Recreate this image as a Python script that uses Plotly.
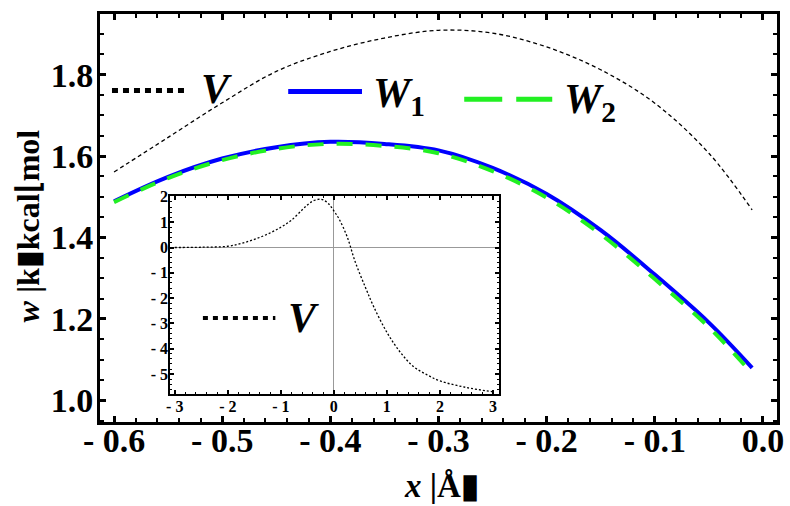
import plotly.graph_objects as go

# ---------------- data ----------------
x_main = [-0.60, -0.55, -0.50, -0.45, -0.40, -0.35, -0.30, -0.25, -0.20, -0.15, -0.10, -0.05, -0.01]
V_main = [1.561, 1.646, 1.731, 1.808, 1.857, 1.890, 1.909, 1.902, 1.868, 1.812, 1.730, 1.607, 1.468]
W1 = [1.489, 1.549, 1.594, 1.622, 1.635, 1.630, 1.614, 1.571, 1.507, 1.418, 1.309, 1.191, 1.080]
W2 = [1.487, 1.546, 1.590, 1.618, 1.630, 1.625, 1.607, 1.563, 1.498, 1.408, 1.298, 1.180, 1.066]

x_inset = [-3.0, -2.5, -2.0, -1.75, -1.5, -1.25, -1.0, -0.8, -0.6, -0.5, -0.4, -0.3, -0.25,
           -0.2, -0.1, 0.0, 0.1, 0.25, 0.4, 0.6, 0.75, 1.0, 1.25, 1.5, 1.75, 2.0, 2.5, 3.0]
V_inset = [0.0, 0.01, 0.05, 0.16, 0.32, 0.53, 0.80, 1.08, 1.48, 1.68, 1.83, 1.90, 1.905,
           1.88, 1.73, 1.45, 1.12, 0.43, -0.55, -1.60, -2.33, -3.35, -4.13, -4.70, -5.02, -5.27, -5.53, -5.70]

main_xticks = [-0.6, -0.5, -0.4, -0.3, -0.2, -0.1, 0.0]
main_xticktext = ["- 0.6", "- 0.5", "- 0.4", "- 0.3", "- 0.2", "- 0.1", "0.0"]
main_yticks = [1.0, 1.2, 1.4, 1.6, 1.8]
main_yticktext = ["1.0", "1.2", "1.4", "1.6", "1.8"]
inset_xticks = [-3, -2, -1, 0, 1, 2, 3]
inset_xticktext = ["- 3", "- 2", "- 1", "0", "1", "2", "3"]
inset_yticks = [2, 1, 0, -1, -2, -3, -4, -5]
inset_yticktext = ["2", "1", "0", "- 1", "- 2", "- 3", "- 4", "- 5"]

SERIF = "Liberation Serif"

fig = go.Figure()
fig.add_trace(go.Scatter(x=x_main, y=V_main, mode="lines", line=dict(color="black", width=1.3, dash="4px,3px", shape="spline"),
                         showlegend=False, xaxis="x", yaxis="y"))
fig.add_trace(go.Scatter(x=x_main, y=W1, mode="lines", line=dict(color="#0000ff", width=4, shape="spline"),
                         showlegend=False, xaxis="x", yaxis="y"))
fig.add_trace(go.Scatter(x=x_main, y=W2, mode="lines", line=dict(color="#22f022", width=4, dash="16px,13px", shape="spline"),
                         showlegend=False, xaxis="x", yaxis="y"))
fig.add_trace(go.Scatter(x=x_inset, y=V_inset, mode="lines", line=dict(color="black", width=1.3, dash="2px,2px", shape="spline"),
                         showlegend=False, xaxis="x2", yaxis="y2"))

axis_common = dict(showline=True, linecolor="black", mirror="allticks", ticks="inside",
                   tickcolor="black", showgrid=False)

fig.update_layout(
    width=790, height=506,
    margin=dict(l=100, r=13, t=6, b=84),
    paper_bgcolor="white", plot_bgcolor="white",
    xaxis=dict(**axis_common, domain=[0, 1], range=[-0.613, 0.013], anchor="y",
               tickvals=main_xticks, ticktext=main_xticktext, zeroline=False,
               linewidth=3, ticklen=6, tickwidth=3, ticklabelstandoff=-14,
               minor=dict(dtick=0.02, ticks="inside", ticklen=4, tickwidth=2, tickcolor="black", showgrid=False),
               tickfont=dict(family=SERIF, size=34, color="black", weight="bold")),
    yaxis=dict(**axis_common, domain=[0, 1], range=[0.947, 1.949], anchor="x",
               tickvals=main_yticks, ticktext=main_yticktext, zeroline=False,
               linewidth=3, ticklen=6, tickwidth=3, ticklabelstandoff=-3,
               minor=dict(dtick=0.05, ticks="inside", ticklen=4, tickwidth=2, tickcolor="black", showgrid=False),
               tickfont=dict(family=SERIF, size=34, color="black", weight="bold")),
    xaxis2=dict(**axis_common, domain=[0.1034, 0.589], range=[-3.09, 3.11], anchor="y2",
                tickvals=inset_xticks, ticktext=inset_xticktext,
                zeroline=True, zerolinecolor="#999999", zerolinewidth=1,
                linewidth=1.5, ticklen=4, tickwidth=1.5, ticklabelstandoff=-3,
                minor=dict(dtick=0.2, ticks="inside", ticklen=2, tickwidth=1, tickcolor="black", showgrid=False),
                tickfont=dict(family=SERIF, size=16, color="black", weight="bold")),
    yaxis2=dict(**axis_common, domain=[0.0697, 0.553], range=[-5.77, 2.02], anchor="x2",
                tickvals=inset_yticks, ticktext=inset_yticktext,
                zeroline=True, zerolinecolor="#999999", zerolinewidth=1,
                linewidth=1.5, ticklen=4, tickwidth=1.5, ticklabelstandoff=-3,
                minor=dict(dtick=0.2, ticks="inside", ticklen=2, tickwidth=1, tickcolor="black", showgrid=False),
                tickfont=dict(family=SERIF, size=16, color="black", weight="bold")),
)

# legend samples (drawn as paper-space shapes)
shapes = [
    dict(type="line", xref="paper", yref="paper", x0=0.0177, x1=0.1285, y0=0.8125, y1=0.8125,
         line=dict(color="black", width=5, dash="6px,5px")),
    dict(type="line", xref="paper", yref="paper", x0=0.278, x1=0.387, y0=0.81, y1=0.81,
         line=dict(color="#0000ff", width=5)),
    dict(type="line", xref="paper", yref="paper", x0=0.538, x1=0.668, y0=0.791, y1=0.791,
         line=dict(color="#22f022", width=5, dash="38px,14px")),
    dict(type="line", xref="paper", yref="paper", x0=0.152, x1=0.259, y0=0.255, y1=0.255,
         line=dict(color="black", width=4, dash="5px,5px")),
]
fig.update_layout(shapes=shapes)

ann_font = dict(family=SERIF, size=42, color="black")
annotations = [
    dict(text="<b><i>V</i></b>", x=0.172, y=0.817, xref="paper", yref="paper", showarrow=False,
         font=ann_font, xanchor="center", yanchor="middle"),
    dict(text="<b><i>W</i><sub>1</sub></b>", x=0.40, y=0.80, xref="paper", yref="paper", showarrow=False,
         font=ann_font, xanchor="left", yanchor="middle"),
    dict(text="<b><i>W</i><sub>2</sub></b>", x=0.682, y=0.785, xref="paper", yref="paper", showarrow=False,
         font=ann_font, xanchor="left", yanchor="middle"),
    dict(text="<b><i>V</i></b>", x=0.30, y=0.255, xref="paper", yref="paper", showarrow=False,
         font=ann_font, xanchor="center", yanchor="middle"),
    dict(text="<b><i>w</i> |k▮kcal⌊mol</b>", x=-0.106, y=0.48, xref="paper", yref="paper", showarrow=False,
         textangle=-90, font=dict(family=SERIF, size=32, color="black"), xanchor="center", yanchor="middle"),
    dict(text="<b><i>x</i> |Å▮</b>", x=0.505, y=-0.158, xref="paper", yref="paper", showarrow=False,
         font=dict(family=SERIF, size=33, color="black"), xanchor="center", yanchor="middle"),
]
fig.update_layout(annotations=annotations)

fig.write_html("out.html", config={"displayModeBar": False},
               post_script="document.body.style.margin='0';")
